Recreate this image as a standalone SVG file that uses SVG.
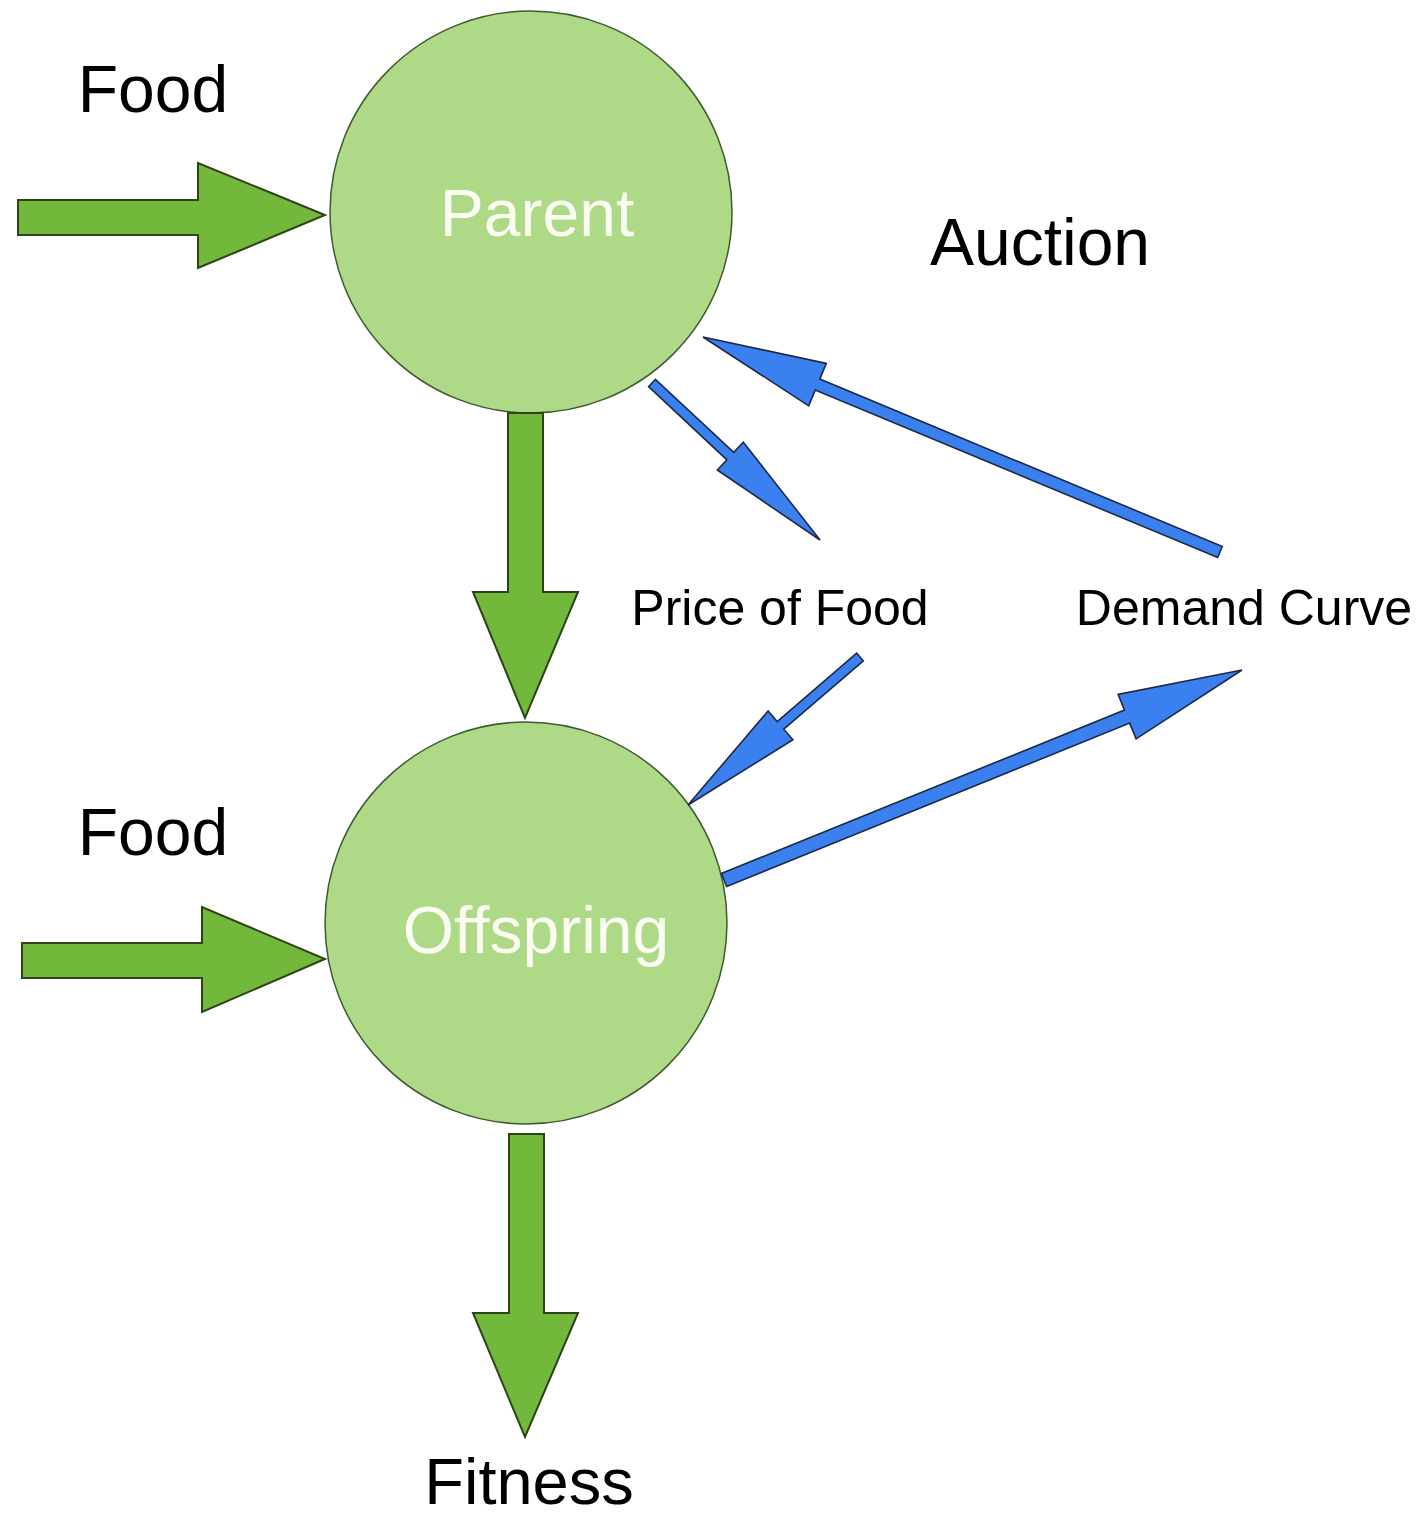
<svg xmlns="http://www.w3.org/2000/svg" width="1424" height="1520" viewBox="0 0 1424 1520">
  <style>
    .node { fill: #aed987; stroke: #3e5a2e; stroke-width: 1.5; }
    .green { fill: #72b83b; stroke: #2c4418; stroke-width: 2; stroke-linejoin: miter; }
    .blue { fill: #3b80ef; stroke: #1c2a48; stroke-width: 1.6; stroke-linejoin: miter; }
    .big { font-family: "Liberation Sans", Arial, sans-serif; font-size: 66px; fill: #000; text-anchor: middle; }
    .inner { font-family: "Liberation Sans", Arial, sans-serif; font-size: 66px; fill: #fbfdf2; text-anchor: middle; }
    .small { font-family: "Liberation Sans", Arial, sans-serif; font-size: 50px; fill: #000; text-anchor: middle; }
  </style>
  <rect width="1424" height="1520" fill="#ffffff"/>

  <g id="parent">
    <circle class="node" cx="531" cy="212" r="201"/>
    <text class="inner" x="537" y="236">Parent</text>
  </g>
  <g id="offspring">
    <circle class="node" cx="526" cy="923" r="201"/>
    <text class="inner" x="536" y="953">Offspring</text>
  </g>
  <g id="food-top"><text class="big" x="153" y="112">Food</text></g>
  <g id="food-bottom"><text class="big" x="153" y="855">Food</text></g>
  <g id="auction"><text class="big" x="1040" y="265">Auction</text></g>
  <g id="price-of-food"><text class="small" x="780" y="625">Price of Food</text></g>
  <g id="demand-curve"><text class="small" x="1244" y="625">Demand Curve</text></g>
  <g id="fitness"><text class="big" x="529" y="1504" style="font-size:65px">Fitness</text></g>

  <g id="connectors">
    <polygon class="green" points="18,200 198,200 198,163 325,215 198,268 198,235 18,235"/>
    <polygon class="green" points="22,943 202,943 202,907 325,959 202,1012 202,978 22,978"/>
    <polygon class="green" points="508,413 543,413 543,592 578,592 525,718 473,592 508,592"/>
    <polygon class="green" points="509,1134 544,1134 544,1313 578,1313 525,1437 473,1313 509,1313"/>
    <polygon class="blue" points="648.6,386.7 726.9,459.8 717.3,470.0 820,540 743.3,442.2 733.7,452.4 655.4,379.3"/>
    <polygon class="blue" points="1222.3,546.5 819.8,379.1 826.3,363.4 703,337 808.7,405.8 815.2,390.1 1217.7,557.5"/>
    <polygon class="blue" points="856.7,653.2 777.2,721.6 768.1,711.0 688,805 792.9,739.8 783.8,729.2 863.3,660.8"/>
    <polygon class="blue" points="726.6,886.5 1129.7,723.1 1136.1,738.8 1242,670 1118.1,694.4 1124.5,710.1 721.4,873.5"/>
  </g>
</svg>
